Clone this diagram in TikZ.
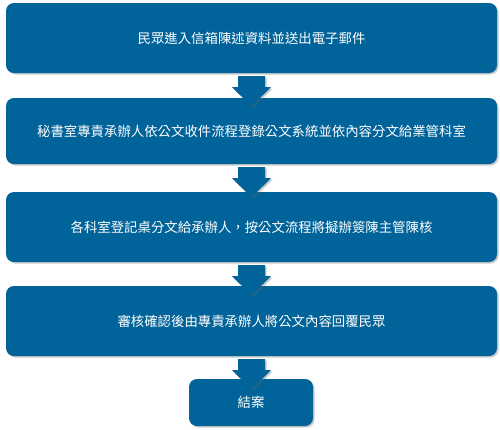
\documentclass[tikz,border=0pt]{standalone}
\usepackage{fontspec}
\newfontfamily\cjk{Noto Sans CJK TC}
\usetikzlibrary{shadows,calc}
\definecolor{boxblue}{RGB}{0,99,153}
\tikzset{
  stepbox/.style={fill=boxblue, draw=none, rounded corners=8pt,
    text=white, font=\cjk\fontsize{13.4}{15}\selectfont,
    drop shadow={shadow xshift=1.5pt, shadow yshift=-1.5pt, opacity=0.35, fill=black!60}},
  blockarrow/.style={fill=boxblue, draw=none,
    drop shadow={shadow xshift=1.5pt, shadow yshift=-1.5pt, opacity=0.35, fill=black!60}}
}
\newcommand\flowarrow[1]{%
  \fill[blockarrow] ($(#1.south)+(-13.5pt,-3pt)$) -- ($(#1.south)+(13.5pt,-3pt)$)
    -- ($(#1.south)+(13.5pt,-14pt)$) -- ($(#1.south)+(19.5pt,-14pt)$)
    -- ($(#1.south)+(0pt,-33pt)$) -- ($(#1.south)+(-19.5pt,-14pt)$)
    -- ($(#1.south)+(-13.5pt,-14pt)$) -- cycle;}
\begin{document}
\begin{tikzpicture}[x=1pt,y=1pt]
\useasboundingbox (0,0) rectangle (500,-429);
\node[stepbox, minimum width=491pt, minimum height=70pt] (b1) at (251.5,-38) {民眾進入信箱陳述資料並送出電子郵件};
\node[stepbox, minimum width=491pt, minimum height=66pt] (b2) at (251.5,-131) {秘書室專責承辦人依公文收件流程登錄公文系統並依內容分文給業管科室};
\node[stepbox, minimum width=491pt, minimum height=70pt] (b3) at (251.5,-227) {各科室登記桌分文給承辦人，按公文流程將擬辦簽陳主管陳核};
\node[stepbox, minimum width=491pt, minimum height=70pt] (b4) at (251.5,-321) {審核確認後由專責承辦人將公文內容回覆民眾};
\node[stepbox, minimum width=124pt, minimum height=47pt] (b5) at (251,-402.5) {結案};
\flowarrow{b1}
\flowarrow{b2}
\flowarrow{b3}
\flowarrow{b4}
\end{tikzpicture}
\end{document}
